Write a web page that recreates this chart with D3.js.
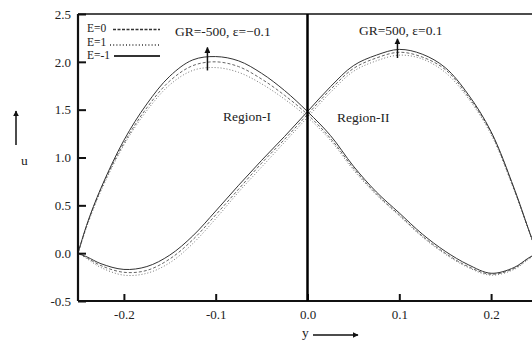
<!DOCTYPE html>
<html>
<head>
<meta charset="utf-8">
<script src="https://cdn.jsdelivr.net/npm/d3@7"></script>
<style>
  body { margin: 0; background: #fff; }
  text { font-family: "Liberation Serif", "DejaVu Serif", serif; fill: #222; }
</style>
</head>
<body>
<div id="chart"></div>
<script>
// y positions (horizontal axis)
var ys = [-0.25, -0.24, -0.225, -0.2, -0.175, -0.15, -0.125, -0.1, -0.075, -0.05, -0.025, 0,
          0.025, 0.05, 0.075, 0.1, 0.125, 0.15, 0.175, 0.2, 0.225, 0.24, 0.25];

// GR=-500, eps=-0.1  (Region-I peak)
var negE0  = [0, 0.30, 0.67, 1.15, 1.52, 1.80, 1.96, 2.00, 1.95, 1.82, 1.65, 1.45,
              1.20, 0.89, 0.62, 0.40, 0.18, 0.00, -0.14, -0.22, -0.16, -0.06, 0];
var negE1  = [0, 0.29, 0.65, 1.13, 1.49, 1.76, 1.91, 1.94, 1.89, 1.77, 1.61, 1.42,
              1.18, 0.87, 0.61, 0.39, 0.17, -0.01, -0.15, -0.23, -0.17, -0.07, 0];
var negEm1 = [0, 0.31, 0.68, 1.18, 1.56, 1.85, 2.02, 2.055, 2.01, 1.88, 1.70, 1.48,
              1.23, 0.91, 0.64, 0.42, 0.20, 0.02, -0.12, -0.21, -0.15, -0.055, 0];

// GR=500, eps=0.1  (Region-II peak)
var posE0  = [0, -0.05, -0.13, -0.20, -0.18, -0.06, 0.14, 0.40, 0.67, 0.94, 1.19, 1.45,
              1.71, 1.93, 2.04, 2.10, 2.05, 1.92, 1.64, 1.26, 0.67, 0.27, 0];
var posE1  = [0, -0.06, -0.15, -0.23, -0.21, -0.10, 0.10, 0.36, 0.64, 0.90, 1.16, 1.42,
              1.68, 1.90, 2.01, 2.07, 2.03, 1.89, 1.62, 1.24, 0.66, 0.26, 0];
var posEm1 = [0, -0.04, -0.11, -0.17, -0.14, -0.02, 0.18, 0.44, 0.71, 0.97, 1.22, 1.48,
              1.74, 1.96, 2.07, 2.13, 2.08, 1.94, 1.66, 1.27, 0.68, 0.27, 0];

var xTicks = [-0.2, -0.1, 0.0, 0.1, 0.2];
var yTicks = [-0.5, 0.0, 0.5, 1.0, 1.5, 2.0, 2.5];

var W = 532, H = 343;
var margin = {top: 14, right: -5, bottom: 42, left: 78};

var svg = d3.select('#chart')
    .append('svg')
    .attr('width', W)
    .attr('height', H);

var x = d3.scaleLinear().domain([-0.25, 0.25]).range([margin.left, W - margin.right]);
var y = d3.scaleLinear().domain([-0.5, 2.5]).range([H - margin.bottom, margin.top]);

var defs = svg.append('defs');
defs.append('marker')
    .attr('id', 'head')
    .attr('viewBox', '0 0 10 10')
    .attr('refX', 9).attr('refY', 5)
    .attr('markerWidth', 6).attr('markerHeight', 6)
    .attr('markerUnits', 'userSpaceOnUse')
    .attr('orient', 'auto')
    .append('path')
    .attr('d', 'M0,0 L10,5 L0,10 Z')
    .attr('fill', '#111');

// curves
var line = d3.line()
    .x(function(d) { return x(d[0]); })
    .y(function(d) { return y(d[1]); })
    .curve(d3.curveCatmullRom.alpha(0.5));

var series = [
    {v: negE1, dash: '1,2', col: '#777'},
    {v: posE1, dash: '1,2', col: '#777'},
    {v: negE0, dash: '3,2', col: '#666'},
    {v: posE0, dash: '3,2', col: '#666'},
    {v: negEm1, dash: null, col: '#333'},
    {v: posEm1, dash: null, col: '#333'}
];

series.forEach(function(s) {
    svg.append('path')
        .datum(ys.map(function(yy, i) { return [yy, s.v[i]]; }))
        .attr('d', line)
        .attr('fill', 'none')
        .attr('stroke', s.col)
        .attr('stroke-width', 1)
        .attr('stroke-dasharray', s.dash);
});

// axes
var yAxis = d3.axisLeft(y)
    .tickValues(yTicks)
    .tickSize(-8)
    .tickPadding(7)
    .tickFormat(function(d) { return d.toFixed(1); });

var xAxis = d3.axisBottom(x)
    .tickValues(xTicks)
    .tickSize(-7)
    .tickPadding(9)
    .tickFormat(function(d) { return d.toFixed(1); });

var gy = svg.append('g')
    .attr('transform', 'translate(' + margin.left + ',0)')
    .call(yAxis);
var gx = svg.append('g')
    .attr('transform', 'translate(0,' + (H - margin.bottom) + ')')
    .call(xAxis);

[gx, gy].forEach(function(g) {
    g.attr('font-family', '"Liberation Serif", serif').attr('font-size', 13);
    g.select('.domain').remove();
    g.selectAll('.tick line').attr('stroke', '#111').attr('stroke-width', 2);
    g.selectAll('.tick text').attr('fill', '#222');
});

// frame
svg.append('line')
    .attr('x1', margin.left).attr('x2', margin.left)
    .attr('y1', y(2.5)).attr('y2', y(-0.5))
    .attr('stroke', '#111').attr('stroke-width', 2.2);
svg.append('line')
    .attr('x1', margin.left).attr('x2', W)
    .attr('y1', y(-0.5)).attr('y2', y(-0.5))
    .attr('stroke', '#111').attr('stroke-width', 2.2);
svg.append('line')
    .attr('x1', margin.left).attr('x2', W)
    .attr('y1', y(2.5)).attr('y2', y(2.5))
    .attr('stroke', '#111').attr('stroke-width', 1.6);

// interface line y = 0
svg.append('line')
    .attr('x1', x(0)).attr('x2', x(0))
    .attr('y1', y(2.5)).attr('y2', y(-0.5))
    .attr('stroke', '#000').attr('stroke-width', 2.5);

// legend
var leg = [
    {t: 'E=0', dash: '3,1.5', y0: 32, ly: 29.5, x1: 113, w: 1.3},
    {t: 'E=1', dash: '1,2.2', y0: 45.5, ly: 45, x1: 110, w: 1.3},
    {t: 'E=-1', dash: null, y0: 59, ly: 56, x1: 114, w: 2}
];
leg.forEach(function(d) {
    svg.append('text')
        .attr('x', 87).attr('y', d.y0)
        .style('font-size', '11.5px')
        .text(d.t);
    svg.append('line')
        .attr('x1', d.x1).attr('x2', 160)
        .attr('y1', d.ly).attr('y2', d.ly)
        .attr('stroke', '#333')
        .attr('stroke-width', d.w)
        .attr('stroke-dasharray', d.dash);
});

// annotations
svg.append('text').attr('x', 175).attr('y', 36).style('font-size', '13.5px').text('GR=-500, ε=−0.1');
svg.append('text').attr('x', 359).attr('y', 35).style('font-size', '13.5px').text('GR=500, ε=0.1');
svg.append('text').attr('x', 223).attr('y', 121).style('font-size', '13.5px').text('Region-I');
svg.append('text').attr('x', 337).attr('y', 122).style('font-size', '13.5px').text('Region-II');

svg.append('line')
    .attr('x1', x(-0.109)).attr('x2', x(-0.109))
    .attr('y1', y(1.91)).attr('y2', y(2.15))
    .attr('stroke', '#111').attr('stroke-width', 1.5)
    .attr('marker-end', 'url(#head)');
svg.append('line')
    .attr('x1', x(0.098)).attr('x2', x(0.098))
    .attr('y1', y(2.04)).attr('y2', y(2.24))
    .attr('stroke', '#111').attr('stroke-width', 1.5)
    .attr('marker-end', 'url(#head)');

// axis titles
svg.append('text').attr('x', 21).attr('y', 165).style('font-size', '13.5px').text('u');
svg.append('line')
    .attr('x1', 16).attr('x2', 16).attr('y1', 145).attr('y2', 111)
    .attr('stroke', '#111').attr('stroke-width', 1.5)
    .attr('marker-end', 'url(#head)');

svg.append('text').attr('x', 302).attr('y', 337).style('font-size', '13.5px').text('y');
svg.append('line')
    .attr('x1', 313).attr('x2', 358).attr('y1', 335).attr('y2', 335)
    .attr('stroke', '#111').attr('stroke-width', 1.5)
    .attr('marker-end', 'url(#head)');
</script>
</body>
</html>
